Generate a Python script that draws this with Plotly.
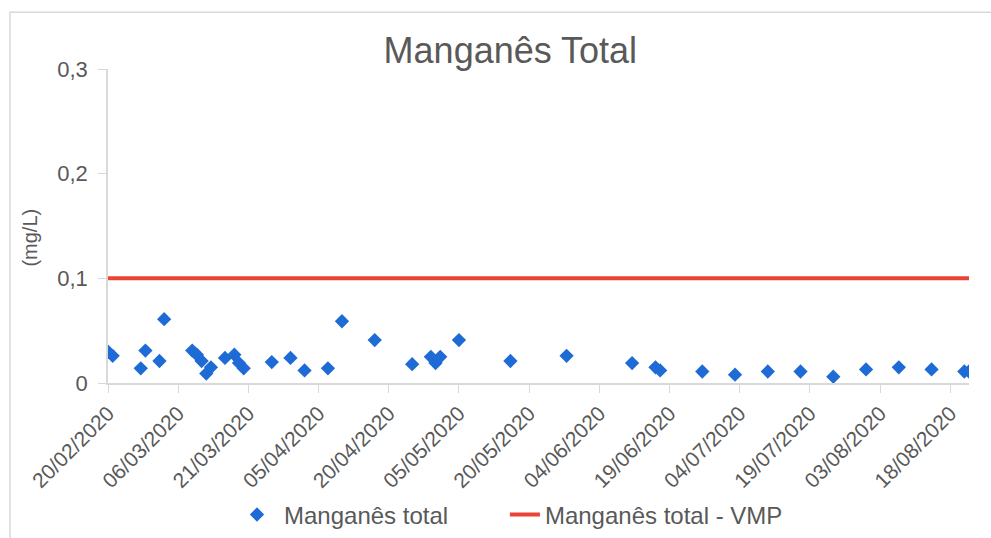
import plotly.graph_objects as go

# Data
dates = [
    "2020-02-20", "2020-02-21", "2020-02-27", "2020-02-28", "2020-03-02",
    "2020-03-03", "2020-03-09", "2020-03-10", "2020-03-11", "2020-03-12",
    "2020-03-13", "2020-03-16", "2020-03-18", "2020-03-19", "2020-03-20",
    "2020-03-26", "2020-03-30", "2020-04-02", "2020-04-07", "2020-04-10",
    "2020-04-17", "2020-04-25", "2020-04-29", "2020-04-30", "2020-05-01",
    "2020-05-05", "2020-05-16", "2020-05-28", "2020-06-11", "2020-06-16",
    "2020-06-17", "2020-06-26", "2020-07-03", "2020-07-10", "2020-07-17",
    "2020-07-24", "2020-07-31", "2020-08-07", "2020-08-14", "2020-08-21",
    "2020-08-22",
]
manganes_total = [
    0.030, 0.026, 0.014, 0.031, 0.021,
    0.061, 0.031, 0.027, 0.021, 0.009,
    0.015, 0.024, 0.027, 0.019, 0.014,
    0.020, 0.024, 0.012, 0.014, 0.059,
    0.041, 0.018, 0.025, 0.019, 0.025,
    0.041, 0.021, 0.026, 0.019, 0.015,
    0.012, 0.011, 0.008, 0.011, 0.011,
    0.006, 0.013, 0.015, 0.013, 0.011,
    0.011,
]
vmp_dates = ["2020-02-20", "2020-08-22"]
vmp_values = [0.1, 0.1]

y_tickvals = [0, 0.1, 0.2, 0.3]
y_ticktext = ["0", "0,1", "0,2", "0,3"]

title_text = "Manganês Total"
y_title = "(mg/L)"
series_name = "Manganês total"
vmp_name = "Manganês total - VMP"

GRAY = "#595959"
AXIS = "#d9d9d9"
FONT = "Arial, Liberation Sans, sans-serif"

fig = go.Figure()
fig.add_trace(go.Scatter(
    x=dates, y=manganes_total, mode="markers", name=series_name,
    marker=dict(symbol="diamond", size=11, color="#1F6BD6"), legend="legend",
))
fig.add_trace(go.Scatter(
    x=vmp_dates, y=vmp_values, mode="lines", name=vmp_name,
    line=dict(color="#EA4335", width=4), legend="legend2",
))

fig.update_layout(
    width=991, height=538,
    margin=dict(l=108, r=22, t=69, b=155, autoexpand=False),
    paper_bgcolor="white", plot_bgcolor="white",
    font=dict(family=FONT, color=GRAY),
    title=dict(text=title_text, x=0.515, xanchor="center", y=0.907, yanchor="middle",
               font=dict(size=36, color=GRAY)),
    showlegend=True,
    legend=dict(orientation="h", x=0.1417, xanchor="left", y=-0.42, yanchor="middle",
                font=dict(size=24, color=GRAY), itemwidth=44),
    legend2=dict(orientation="h", x=0.461, xanchor="left", y=-0.42, yanchor="middle",
                 font=dict(size=24, color=GRAY), itemwidth=30),
    xaxis=dict(
        type="date", range=["2020-02-20", "2020-08-22"],
        tick0="2020-02-20", dtick=15 * 86400000, tickformat="%d/%m/%Y",
        tickangle=-45, ticks="outside", ticklen=8, tickcolor=AXIS,
        showline=True, linecolor=AXIS, linewidth=1.5, showgrid=False, zeroline=False,
        tickfont=dict(size=21, color=GRAY), automargin=False,
    ),
    yaxis=dict(
        range=[0, 0.3], tickvals=y_tickvals, ticktext=y_ticktext,
        ticks="outside", ticklen=8, tickcolor=AXIS, ticklabelstandoff=6,
        showline=True, linecolor=AXIS, linewidth=1.5, showgrid=False, zeroline=False,
        tickfont=dict(size=22, color=GRAY), automargin=False,
    ),
    annotations=[dict(
        text=y_title, textangle=-90, xref="paper", yref="paper",
        x=-0.0906, y=0.463, xanchor="center", yanchor="middle", showarrow=False,
        font=dict(size=20, color=GRAY),
    )],
    shapes=[dict(
        type="rect", xref="paper", yref="paper",
        x0=-0.1138, x1=1.2, y0=-0.8, y1=1.181,
        line=dict(color=AXIS, width=1.5), fillcolor="rgba(0,0,0,0)", layer="below",
    )],
)

fig.write_html("out.html", config={"displayModeBar": False},
               post_script="document.body.style.margin='0px';document.body.style.overflow='hidden';")
